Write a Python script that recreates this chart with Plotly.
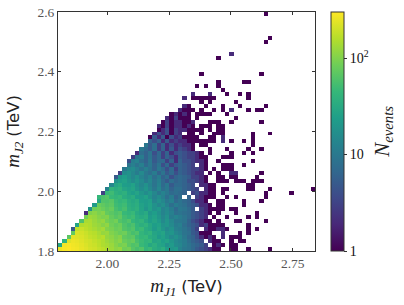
import numpy as np
import plotly.graph_objects as go

x_limits = [1.8, 2.84]
y_limits = [1.8, 2.6]
n_bins = 60
max_count = 300

x_ticks = [2.0, 2.25, 2.5, 2.75]
x_tick_labels = ["2.00", "2.25", "2.50", "2.75"]
y_ticks = [1.8, 2.0, 2.2, 2.4, 2.6]
y_tick_labels = ["1.8", "2.0", "2.2", "2.4", "2.6"]
cbar_ticks = [1, 10, 100]
cbar_labels = ["1", "10", "10<sup>2</sup>"]

# first filled mJ1 bin for every mJ2 bin 0..34
head_start = [0, 0, 1, 2, 3, 3, 4, 5, 6, 6, 7, 8, 9, 9, 10, 11, 12, 13, 13, 14, 15, 16, 16, 17, 18, 19, 20, 21, 21, 22, 23, 23, 24, 25, 26]

# counts from head_start up to mJ1 bin 27
head_counts = [
    [260,290,300,280,270,250,230,210,200,180,170,150,130,110,120,85,90,65,55,62,42,48,34,30,36,24,20,22],
    [30,280,290,270,260,240,220,200,190,170,150,140,125,105,90,95,70,60,65,46,40,30,36,28,26,18,22,16],
    [40,230,260,250,230,210,200,180,165,150,130,115,100,110,80,72,78,56,48,40,44,28,30,24,27,20,15,19],
    [70,240,230,220,200,180,170,150,160,120,110,95,105,72,66,70,50,44,46,34,30,22,26,20,15,18],
    [75,220,210,190,170,160,140,120,125,100,90,80,85,65,55,60,42,36,40,28,25,28,18,20,14],
    [5,180,190,170,155,140,125,135,100,92,80,85,62,56,62,44,48,34,30,22,28,20,15,18,12],
    [28,150,160,150,130,120,105,115,85,75,82,60,52,58,42,36,40,30,24,26,18,20,15,11],
    [60,140,145,125,110,120,90,80,88,62,55,62,44,38,42,30,24,28,22,15,20,14,10],
    [90,130,120,105,95,100,75,65,72,52,46,50,36,32,36,22,26,20,14,18,11,13],
    [2,100,110,95,105,75,68,60,66,46,42,46,32,28,32,20,24,18,13,16,12,8],
    [18,85,90,80,70,78,55,48,55,38,34,38,27,20,26,18,21,13,15,11,7],
    [22,80,72,65,70,50,46,50,36,32,36,26,22,26,18,14,17,12,8,11],
    [30,62,60,66,48,42,46,34,30,34,24,22,25,14,18,14,10,12,7],
    [45,58,65,46,42,46,34,30,34,24,22,26,18,13,16,12,8,11,6],
    [3,45,50,38,34,38,27,24,28,20,16,20,14,10,13,10,7,8],
    [12,40,34,38,28,25,28,20,16,20,14,10,14,8,10,6,8],
    [14,28,32,24,22,26,18,14,18,13,9,13,7,10,5,7],
    [18,24,26,20,16,20,15,11,14,9,12,7,5,8,6],
    [5,20,24,18,14,18,13,10,13,8,11,6,8,4,6],
    [3,16,18,14,11,15,10,8,11,6,9,5,7,4],
    [10,14,16,12,9,12,9,6,10,7,4,7,3],
    [9,12,9,12,7,10,6,9,4,7,3,5],
    [4,11,13,8,6,10,5,7,7,3,6,2],
    [3,9,11,6,9,5,7,3,6,4,2],
    [2,8,6,9,4,7,3,6,2,4],
    [10,7,5,8,3,6,2,5,2],
    [10,5,8,3,6,2,4,2],
    [6,4,6,2,5,2,3],
    [1,5,2,5,1,4,2],
    [2,4,2,4,1,3],
    [1,2,4,1,3],
    [2,1,3,1,2],
    [1,3,1,2],
    [2,1,3],
    [1,2],
]

# counts from mJ1 bin 28 upward, one list per mJ2 bin 0..59
tail_counts = [
    [13,10,9,7,5,4,3,2,1,1,0,0,1,1,0,0,1,0,0,0,0,1],
    [14,11,9,7,6,5,3,0,1,2,1,0,1,1],
    [13,11,8,6,5,4,0,2,1,1,0,0,1,0,1,1],
    [14,10,7,6,4,2,1,2,1,0,2,0,1,1,1],
    [12,9,8,5,4,1,1,1,0,0,2,0,0,0,1,0,1],
    [11,9,7,5,3,0,2,1,1,2,2,1,0,0,0,0,1,0,1],
    [12,8,6,5,4,2,3,1,1,1,1,0,0,0,0,0,1],
    [10,9,6,4,3,2,1,1,0,1,0,0,0,1,1,0,0,0,0,0,1],
    [11,9,7,5,4,3,2,0,1,0,0,1,0,0,0,0,1,0,1],
    [9,8,7,5,4,3,2,1,0,1,0,0,0,1,0,0,0,0,1],
    [10,9,7,5,0,3,2,1,1,1,1,0,1,1],
    [9,8,6,5,4,2,2,1,0,1,1,0,0,0,0,1],
    [9,7,6,4,2,2,1,0,0,1,1,0,0,0,0,1,0,0,0,1],
    [8,0,6,0,3,2,1,1,1,0,0,1,0,1,0,0,0,0,0,0,1],
    [7,6,0,3,4,2,2,1,1,0,1,0,0,0,0,0,0,0,0,0,1,0,0,0,0,0,1],
    [8,6,5,4,3,0,2,1,1,0,1,1,0,0,0,0,1,1,0,0,0,1,0,0,0,0,0,0,0,0,0,1],
    [7,6,5,4,0,2,2,1,1,0,0,0,0,0,0,0,1,1],
    [7,6,4,4,3,2,1,0,0,1,1,1,0,1,1,1,0,1,1,1],
    [7,6,5,3,3,2,1,0,0,1,1,0,1,1,0,0,0,0,1],
    [6,5,4,3,2,2,0,1,0,1,0,0,2,2,0,0,0,0,0,1],
    [6,5,4,3,3,2,1,0,1,0,1,1,1],
    [6,5,4,3,0,2,1,0,0,0,1,1,1,0,0,1],
    [6,4,4,3,2,2,1,0,0,1,0,0,0,0,0,0,0,1],
    [5,4,3,3,2,1,1,0,0,0,1,1,1],
    [5,4,3,3,2,1,0,1,0,0,0,0,1,0,0,1,0,1],
    [4,3,2,1,0,0,0,1,0,0,0,1,0,0,0,0,1,0,0,1],
    [3,2,2,1,0,1,1,0,0,0,0,0,0,0,0,0,0,1],
    [2,2,1,1,1,1,1,1,1,0,2,0,1,0,0,1,0,1],
    [3,1,1,1,1,0,0,1,1,0,2,0,0,0,0,0,0,1],
    [2,0,1,1,0,1,0,0,1,1,1,0,0,0,0,0,0,1,0,0,0,1],
    [2,2,1,1,1,1,0,1,0,1,1],
    [2,1,2,1,0,1,1,1,0,1,1],
    [2,1,1,2,0,0,0,1,1,1,0,0,1,0,0,0,0,0,0,1],
    [1,1,1,0,1,0,0,0,0,0,0,0,0,1],
    [1,2,1,0,1,1,1,1,0,0,0,1],
    [2,1,1,1,0,1,0,0,1,0,1,0,2,0,0,0,1,0,1,1],
    [0,2,1,0,0,0,1,0,0,0,1,0,0,0,1,0,0,0,0,0,1],
    [0,0,0,0,0,1,0,1,0,0,0,0,0,1],
    [0,2,0,1,1,1,1,1,1,0,0,0,0,0,0,0,1],
    [0,0,0,2,0,0,0,2,0,0,0,1,0,0,1,0,1],
    [0,0,0,0,0,0,0,0,0,0,1],
    [0,0,0,0,1,0,1,0,0,1],
    [0,0,0,0,0,0,0,0,0,1,0,0,0,0,0,1,1],
    [],
    [0,0,0,0,0,1,0,0,0,0,0,0,0,0,0,0,0,0,0,1],
    [],
    [],
    [],
    [0,0,0,0,0,0,0,0,0,1],
    [0,0,0,0,0,0,0,0,0,0,0,0,2],
    [],
    [],
    [0,0,0,0,0,0,0,0,0,0,0,0,0,0,0,0,0,0,0,0,1],
    [0,0,0,0,0,0,0,0,0,0,0,0,0,0,0,0,0,0,0,0,0,1],
    [],
    [],
    [],
    [],
    [],
    [0,0,0,0,0,0,0,0,0,0,0,0,0,0,0,0,0,0,0,0,1],
]

counts = np.zeros((n_bins, n_bins))
for j, row in enumerate(head_counts):
    s = head_start[j]
    counts[j, s:s + len(row)] = row
for j, row in enumerate(tail_counts):
    counts[j, 28:28 + len(row)] = row

with np.errstate(divide="ignore"):
    z = np.where(counts > 0, np.log10(counts), np.nan)

dx = (x_limits[1] - x_limits[0]) / n_bins
dy = (y_limits[1] - y_limits[0]) / n_bins
x_centers = x_limits[0] + dx * (np.arange(n_bins) + 0.5)
y_centers = y_limits[0] + dy * (np.arange(n_bins) + 0.5)

SERIF = "Liberation Serif"
INK = "#333333"
tev = "<span style=\"font-family:'DejaVu Sans';font-size:16.5px\">(TeV)</span>"

fig = go.Figure(go.Heatmap(
    x=x_centers, y=y_centers, z=z,
    colorscale="Viridis", zmin=0, zmax=np.log10(max_count),
    hoverongaps=False, xgap=0, ygap=0,
    colorbar=dict(
        tickmode="array", tickvals=np.log10(cbar_ticks).tolist(), ticktext=cbar_labels,
        x=1.0625, xanchor="left", y=0, yanchor="bottom", len=1, lenmode="fraction",
        thickness=12.5, xpad=0, ypad=0, outlinecolor=INK, outlinewidth=1,
        ticks="outside", ticklen=3, tickcolor=INK, tickwidth=1,
        tickfont=dict(family=SERIF, size=14, color="#111111"),
    ),
))

common = dict(ticks="inside", ticklen=3, tickcolor=INK, tickwidth=1,
              showgrid=False, zeroline=False, showline=True, linecolor=INK,
              linewidth=1, mirror="ticks",
              tickfont=dict(family=SERIF, size=13.5, color="#555555"))

fig.update_xaxes(range=x_limits, tickmode="array", tickvals=x_ticks, ticktext=x_tick_labels,
                 title=dict(text="<i>m<sub>J1</sub></i> " + tev,
                            font=dict(family=SERIF, size=19, color="#222222"), standoff=8),
                 **common)
fig.update_yaxes(range=y_limits, tickmode="array", tickvals=y_ticks, ticktext=y_tick_labels,
                 title=dict(text="<i>m<sub>J2</sub></i> " + tev,
                            font=dict(family=SERIF, size=19, color="#222222"), standoff=12),
                 **common)

fig.add_annotation(text="<i>N<sub>events</sub></i>", xref="paper", yref="paper",
                   x=1.32, y=0.5, showarrow=False, textangle=-90,
                   font=dict(family=SERIF, size=21, color="#222222"))

fig.update_layout(width=404, height=305,
                  margin=dict(l=58, r=89, t=11.5, b=54, autoexpand=False),
                  plot_bgcolor="white", paper_bgcolor="white", showlegend=False)

fig.write_html("out.html", config={"displayModeBar": False},
               post_script="document.body.style.margin='0';document.documentElement.style.overflow='hidden';")
